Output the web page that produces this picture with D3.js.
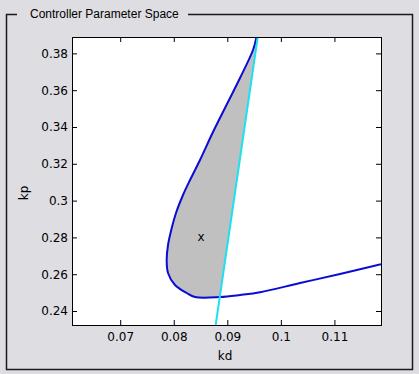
<!DOCTYPE html>
<html>
<head>
<meta charset="utf-8">
<script src="https://cdn.jsdelivr.net/npm/d3@7"></script>
<style>
  body { margin: 0; background: #dedde2; }
  svg { display: block; }
</style>
</head>
<body>
<svg id="chart" width="419" height="374"></svg>
<script>
// values
const boundaryKd = [0.09545, 0.09480, 0.09237, 0.09013, 0.08733, 0.08490, 0.08304, 0.08173, 0.08042, 0.07958, 0.07893, 0.07868, 0.07893, 0.08023, 0.08242, 0.08397, 0.08864, 0.09237, 0.09611, 0.10358, 0.11105, 0.1187];
const boundaryKp = [0.3889, 0.38183, 0.36662, 0.35358, 0.33727, 0.32206, 0.31119, 0.30304, 0.29326, 0.28457, 0.27587, 0.26772, 0.26066, 0.25414, 0.24979, 0.24761, 0.24761, 0.2487, 0.25017, 0.25522, 0.26011, 0.26538];
const lineKd = [0.09568, 0.08783];
const lineKp = [0.3889, 0.2324];
// stable region: left branch of the boundary (first points) closed along the cyan line
const branchCount = 16;
const closeKd = [0.08859, 0.09568];
const closeKp = [0.24761, 0.3889];
const markKd = 0.0851, markKp = 0.2804;
const xTicks = [0.07, 0.08, 0.09, 0.1, 0.11];
const yTicks = [0.24, 0.26, 0.28, 0.3, 0.32, 0.34, 0.36, 0.38];
const title = 'Controller Parameter Space';

const svg = d3.select('#chart');
const mLeft = 72, mRight = 381, mTop = 37, mBottom = 325;
const tickFont = '"DejaVu Sans", Verdana, sans-serif';

const x = d3.scaleLinear().domain([0.061, 0.1187]).range([mLeft, mRight]);
const y = d3.scaleLinear().domain([0.2324, 0.3889]).range([mBottom, mTop]);

// group box
svg.append('rect')
  .attr('x', 6.5).attr('y', 14.5).attr('width', 406).attr('height', 355)
  .attr('fill', 'none').attr('stroke', '#1a1a1a').attr('stroke-width', 1.5);
svg.append('rect')
  .attr('x', 17).attr('y', 8).attr('width', 171).attr('height', 14)
  .attr('fill', '#dedde2');
svg.append('text')
  .attr('x', 30).attr('y', 18)
  .attr('font-family', '"Liberation Sans", Arial, sans-serif')
  .attr('font-size', 12).attr('fill', '#000')
  .text(title);

// plot area
svg.append('rect')
  .attr('x', mLeft).attr('y', mTop).attr('width', mRight - mLeft).attr('height', mBottom - mTop)
  .attr('fill', '#fff');

svg.append('clipPath').attr('id', 'clip')
  .append('rect').attr('x', mLeft).attr('y', mTop).attr('width', mRight - mLeft).attr('height', mBottom - mTop);

const g = svg.append('g').attr('clip-path', 'url(#clip)');

const smooth = d3.line().x(d => x(d[0])).y(d => y(d[1])).curve(d3.curveCatmullRom.alpha(0.5));
const straight = d3.line().x(d => x(d[0])).y(d => y(d[1]));

const boundary = boundaryKd.map((d, i) => [d, boundaryKp[i]]);
const branch = boundary.slice(0, branchCount);
const closing = closeKd.map((d, i) => [d, closeKp[i]]);

let fillPath = smooth(branch);
closing.forEach(p => { fillPath += 'L' + x(p[0]) + ',' + y(p[1]); });
g.append('path')
  .attr('d', fillPath + 'Z')
  .attr('fill', '#c0c0c0');

g.append('path')
  .attr('d', smooth(boundary))
  .attr('fill', 'none').attr('stroke', '#0b0bd6').attr('stroke-width', 2);

const cyan = lineKd.map((d, i) => [d, lineKp[i]]);
g.append('path')
  .attr('d', straight(cyan))
  .attr('fill', 'none').attr('stroke', '#1ee0f0').attr('stroke-width', 2);

svg.append('text')
  .attr('x', x(markKd)).attr('y', y(markKp))
  .attr('text-anchor', 'middle').attr('dy', '0.32em')
  .attr('font-family', tickFont)
  .attr('font-size', 12).attr('fill', '#000')
  .text('x');

// axes, ticks inside, mirrored on top and right
const fmt = d => String(d);
const ax = svg.append('g');

ax.append('g').attr('transform', 'translate(0,' + mBottom + ')')
  .call(d3.axisBottom(x).tickValues(xTicks).tickSize(-5).tickPadding(7).tickFormat(fmt));
ax.append('g').attr('transform', 'translate(0,' + mTop + ')')
  .call(d3.axisTop(x).tickValues(xTicks).tickSize(-5).tickFormat(''));
ax.append('g').attr('transform', 'translate(' + mLeft + ',0)')
  .call(d3.axisLeft(y).tickValues(yTicks).tickSize(-5).tickPadding(4).tickFormat(fmt));
ax.append('g').attr('transform', 'translate(' + mRight + ',0)')
  .call(d3.axisRight(y).tickValues(yTicks).tickSize(-5).tickFormat(''));

ax.selectAll('.domain').attr('stroke', '#000');
ax.selectAll('.tick line').attr('stroke', '#000');
ax.selectAll('text').attr('fill', '#000').attr('font-family', tickFont).attr('font-size', 12);

svg.append('text')
  .attr('x', 225).attr('y', 360)
  .attr('text-anchor', 'middle').attr('font-size', 12)
  .attr('font-family', tickFont)
  .text('kd');
svg.append('text')
  .attr('transform', 'translate(28,' + ((mTop + mBottom) / 2 + 12) + ') rotate(-90)')
  .attr('text-anchor', 'middle').attr('font-size', 12)
  .attr('font-family', tickFont)
  .text('kp');
</script>
</body>
</html>
